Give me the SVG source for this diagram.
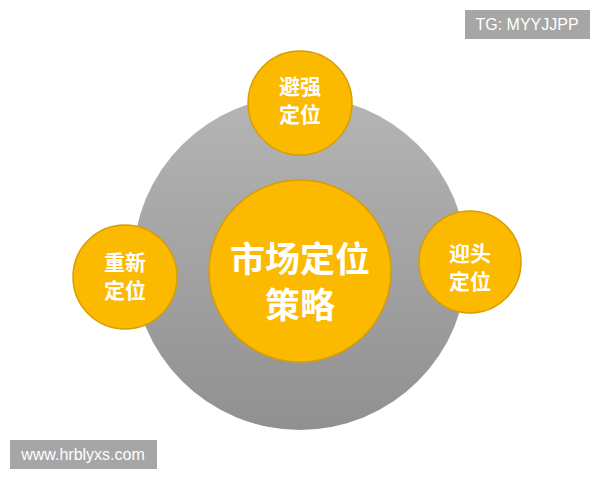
<svg xmlns="http://www.w3.org/2000/svg" width="600" height="480" viewBox="0 0 600 480">
<defs>
<linearGradient id="g" x1="0" y1="0" x2="0" y2="1">
<stop offset="0" stop-color="#b5b5b5"/>
<stop offset="1" stop-color="#909090"/>
</linearGradient>
<style>
.n{fill:#fbba00;stroke:#d89e00;stroke-width:1.5}
.t{font-family:"Noto Sans CJK SC","Noto Sans",sans-serif;font-weight:bold;fill:#ffffff;text-anchor:middle}
.s{font-size:21px}
.b{font-size:35px}
.w{font-family:"Liberation Sans",Arial,sans-serif;font-size:16px;fill:#ffffff;text-anchor:middle}
</style>
</defs>
<rect width="600" height="480" fill="#ffffff"/>
<g id="connectors"></g>
<g id="bg"><circle cx="300" cy="263" r="167" fill="url(#g)"/></g>
<g id="center"><circle class="n" cx="300" cy="271" r="91"/>
<text class="t b"><tspan x="300" y="272">市场定位</tspan><tspan x="300" y="318">策略</tspan></text></g>
<g id="top"><circle class="n" cx="300" cy="103" r="52"/>
<text class="t s"><tspan x="300" y="94">避强</tspan><tspan x="300" y="122">定位</tspan></text></g>
<g id="left"><circle class="n" cx="125" cy="277" r="52"/>
<text class="t s"><tspan x="125" y="270">重新</tspan><tspan x="125" y="298">定位</tspan></text></g>
<g id="right"><circle class="n" cx="470" cy="262" r="51"/>
<text class="t s"><tspan x="470" y="261">迎头</tspan><tspan x="470" y="289">定位</tspan></text></g>
<g id="wm1"><rect x="465" y="10" width="125" height="29" fill="#a6a6a6"/>
<text class="w" x="527" y="30">TG: MYYJJPP</text></g>
<g id="wm2"><rect x="10" y="440" width="147" height="29" fill="#a6a6a6"/>
<text class="w" x="83" y="460">www.hrblyxs.com</text></g>
</svg>
